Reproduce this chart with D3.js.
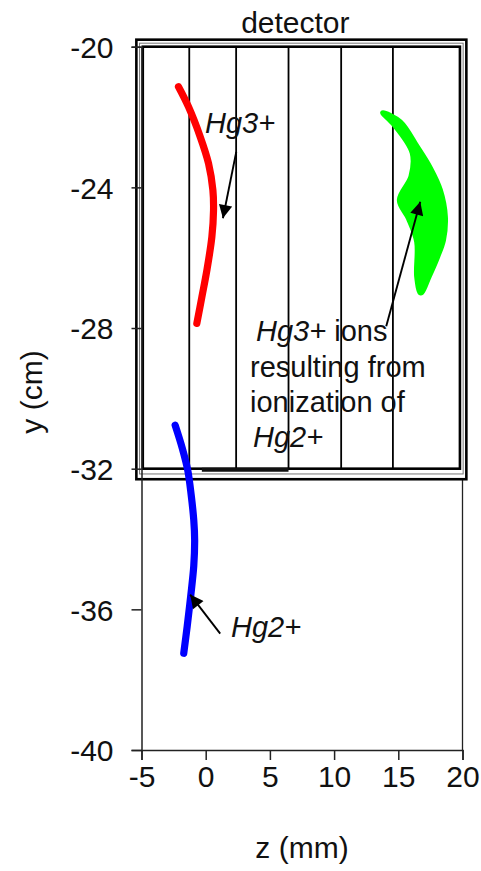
<!DOCTYPE html>
<html>
<head>
<meta charset="utf-8">
<script src="https://cdn.jsdelivr.net/npm/d3@7"></script>
<style>
  html, body { margin: 0; padding: 0; background: #fff; }
  svg { display: block; font-family: "Liberation Sans", Arial, sans-serif; }
</style>
</head>
<body>
<svg id="chart" width="481" height="871"></svg>
<script>
// Ion trajectories in the (z, y) plane: z in mm, y in cm
const hg3Z = [-2.12, -1.34, -0.43, 0.22, 0.56, 0.61, 0.48, 0.09, -0.30, -0.69];
const hg3Y = [-21.14, -21.71, -22.56, -23.32, -24.08, -24.65, -25.41, -26.36, -27.12, -27.87];

const hg2Z = [-2.38, -1.83, -1.40, -1.13, -0.93, -0.86, -0.93, -1.17, -1.44, -1.71];
const hg2Y = [-30.76, -31.41, -32.04, -32.75, -33.46, -34.03, -34.77, -35.63, -36.48, -37.25];

// Outline of the cloud of Hg3+ ions produced by ionization of Hg2+
const cloudZ = [13.80, 15.15, 16.45, 17.48, 18.26, 18.65, 18.50, 18.05, 17.40, 16.75,
                16.45, 16.45, 15.80, 15.10, 16.00, 16.10, 14.65];
const cloudY = [-21.88, -22.14, -22.84, -23.45, -24.08, -24.84, -25.50, -25.97, -26.52, -27.00,
                -26.54, -25.55, -24.88, -24.36, -23.70, -23.02, -22.20];

// Detector: outer/inner frame, strip boundaries and the shaded bottom section
const detInnerZ = [-4.9, 19.8];
const detInnerY = [-20.0, -32.0];
const detOuterZ = [-5.4, 20.3];
const detOuterY = [-19.8, -32.3];
const stripZ = [-1.28, 2.37, 6.45, 10.55, 14.58];
const bottomBarZ = [-0.3, 6.45];

// Axis ticks
const xTicks = [-5, 0, 5, 10, 15, 20];
const yTicks = [-40, -36, -32, -28, -24, -20];

const svg = d3.select("#chart");
const x = d3.scaleLinear().domain([-5, 20]).range([141.5, 462.5]);
const y = d3.scaleLinear().domain([-40, -20]).range([750, 46.7]);

const axisColor = "#222";

// Plot frame (right side thin line)
svg.append("line")
  .attr("x1", x(20)).attr("x2", x(20))
  .attr("y1", y(-20)).attr("y2", y(-40))
  .attr("stroke", axisColor).attr("stroke-width", 1.3);

// Detector outer frame
svg.append("rect")
  .attr("x", x(detOuterZ[0])).attr("y", y(detOuterY[0]))
  .attr("width", x(detOuterZ[1]) - x(detOuterZ[0]))
  .attr("height", y(detOuterY[1]) - y(detOuterY[0]))
  .attr("fill", "#fff").attr("stroke", "#000").attr("stroke-width", 2.6);

// Thin gray line between outer and inner frames
const midZ = [(detOuterZ[0] + detInnerZ[0]) / 2, (detOuterZ[1] + detInnerZ[1]) / 2];
const midY = [(detOuterY[0] + detInnerY[0]) / 2, (detOuterY[1] + detInnerY[1]) / 2];
svg.append("rect")
  .attr("x", x(midZ[0])).attr("y", y(midY[0]))
  .attr("width", x(midZ[1]) - x(midZ[0]))
  .attr("height", y(midY[1]) - y(midY[0]))
  .attr("fill", "none").attr("stroke", "#777").attr("stroke-width", 1);

// Detector inner frame
svg.append("rect")
  .attr("x", x(detInnerZ[0])).attr("y", y(detInnerY[0]))
  .attr("width", x(detInnerZ[1]) - x(detInnerZ[0]))
  .attr("height", y(detInnerY[1]) - y(detInnerY[0]))
  .attr("fill", "#fff").attr("stroke", "#000").attr("stroke-width", 2.6);

// Strip boundaries
svg.selectAll("line.strip").data(stripZ).join("line")
  .attr("class", "strip")
  .attr("x1", d => x(d)).attr("x2", d => x(d))
  .attr("y1", y(detInnerY[0])).attr("y2", y(detInnerY[1]))
  .attr("stroke", "#000").attr("stroke-width", 1.8);

// Thick segment along the bottom of the detector
svg.append("line")
  .attr("x1", x(bottomBarZ[0])).attr("x2", x(bottomBarZ[1]))
  .attr("y1", y(detInnerY[1]) + 1).attr("y2", y(detInnerY[1]) + 1)
  .attr("stroke", "#111").attr("stroke-width", 4);

// Detector label
svg.append("text")
  .attr("x", (x(detOuterZ[0]) + x(detOuterZ[1])) / 2 - 6)
  .attr("y", 33)
  .attr("text-anchor", "middle")
  .attr("font-size", 30)
  .attr("fill", "#111")
  .text("detector");

// Axes (plain hyphen-minus for negative labels)
const fmt = d => String(d);
const xAxis = d3.axisBottom(x).tickValues(xTicks).tickSize(10).tickPadding(6).tickFormat(fmt);
const yAxis = d3.axisLeft(y).tickValues(yTicks).tickSize(10).tickPadding(18).tickFormat(fmt);

const gx = svg.append("g").attr("transform", `translate(0,${y(-40)})`).call(xAxis);
const gy = svg.append("g").attr("transform", `translate(${x(-5)},0)`).call(yAxis);

[gx, gy].forEach(g => {
  g.select(".domain").attr("stroke", axisColor).attr("stroke-width", 1.5);
  g.selectAll(".tick line").attr("stroke", axisColor).attr("stroke-width", 1.5);
  g.selectAll(".tick text")
    .attr("font-family", "Liberation Sans, Arial, sans-serif")
    .attr("font-size", 30).attr("fill", "#111");
});
gy.selectAll(".tick text").attr("dy", "0.36em");

// Axis titles
svg.append("text")
  .attr("x", (x(-5) + x(20)) / 2).attr("y", 858)
  .attr("text-anchor", "middle").attr("font-size", 30).attr("fill", "#111")
  .text("z (mm)");

svg.append("text")
  .attr("transform", "translate(42,392) rotate(-90)")
  .attr("text-anchor", "middle").attr("font-size", 30).attr("fill", "#111")
  .text("y (cm)");

// Trajectories
const line = d3.line().x(d => x(d[0])).y(d => y(d[1])).curve(d3.curveCatmullRom.alpha(0.5));

svg.append("path")
  .datum(d3.zip(hg3Z, hg3Y))
  .attr("d", line)
  .attr("fill", "none").attr("stroke", "#ff0000")
  .attr("stroke-width", 7.2).attr("stroke-linecap", "round");

svg.append("path")
  .datum(d3.zip(hg2Z, hg2Y))
  .attr("d", line)
  .attr("fill", "none").attr("stroke", "#0000ff")
  .attr("stroke-width", 7.2).attr("stroke-linecap", "round");

// Ion cloud
const area = d3.line().x(d => x(d[0])).y(d => y(d[1])).curve(d3.curveCatmullRomClosed.alpha(0.5));
svg.append("path")
  .datum(d3.zip(cloudZ, cloudY))
  .attr("d", area)
  .attr("fill", "#00ff00").attr("stroke", "#00ff00")
  .attr("stroke-width", 5.5).attr("stroke-linejoin", "round");

// Arrow markers
const defs = svg.append("defs");
defs.append("marker")
  .attr("id", "arrow")
  .attr("viewBox", "0 0 10 10")
  .attr("refX", 10).attr("refY", 5)
  .attr("markerWidth", 9).attr("markerHeight", 7)
  .attr("markerUnits", "strokeWidth")
  .attr("orient", "auto")
  .append("path").attr("d", "M0,0 L10,5 L0,10 Z").attr("fill", "#000");

// Annotation arrows: [startZ, startY, tipZ, tipY]
const arrows = [
  [2.38, -22.99, 1.34, -24.88],
  [14.06, -27.95, 16.71, -24.41],
  [1.13, -36.69, -1.21, -35.58]
];
svg.selectAll("line.arrow").data(arrows).join("line")
  .attr("class", "arrow")
  .attr("x1", d => x(d[0])).attr("y1", d => y(d[1]))
  .attr("x2", d => x(d[2])).attr("y2", d => y(d[3]))
  .attr("stroke", "#000").attr("stroke-width", 1.9)
  .attr("marker-end", "url(#arrow)");

// Annotation labels
const fs = 29;
svg.append("text").attr("x", 205).attr("y", 133)
  .attr("font-size", fs).attr("font-style", "italic").attr("fill", "#111")
  .text("Hg3+");

svg.append("text").attr("x", 231).attr("y", 637)
  .attr("font-size", fs).attr("font-style", "italic").attr("fill", "#111")
  .text("Hg2+");

const note = svg.append("g").attr("font-size", fs).attr("fill", "#111");
const t1 = note.append("text").attr("x", 256).attr("y", 341);
t1.append("tspan").attr("font-style", "italic").text("Hg3+");
t1.append("tspan").text(" ions");
note.append("text").attr("x", 250).attr("y", 377).text("resulting from");
note.append("text").attr("x", 250).attr("y", 412).text("ionization of");
note.append("text").attr("x", 253).attr("y", 447).attr("font-style", "italic").text("Hg2+");
</script>
</body>
</html>
